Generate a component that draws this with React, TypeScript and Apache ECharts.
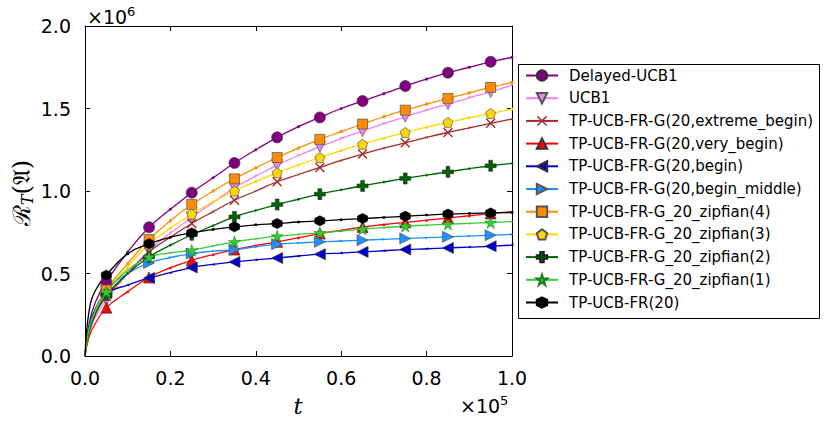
import React, { useEffect, useRef } from "react";
import * as echarts from "echarts";

// time (×10^5)
const T = [0, 0.01, 0.025, 0.05, 0.1, 0.15, 0.2, 0.25, 0.3, 0.35, 0.4, 0.45, 0.5, 0.55, 0.6, 0.65, 0.7, 0.75, 0.8, 0.85, 0.9, 0.95, 1.0];

// regret (×10^6)
const delayedUCB1 = [0, 0.2, 0.33, 0.45, 0.63, 0.78, 0.89, 0.99, 1.08, 1.17, 1.25, 1.325, 1.39, 1.446, 1.5, 1.545, 1.59, 1.636, 1.678, 1.717, 1.75, 1.783, 1.81];
const ucb1 = [0, 0.14, 0.24, 0.34, 0.5, 0.64, 0.745, 0.84, 0.93, 1.02, 1.09, 1.157, 1.215, 1.268, 1.318, 1.363, 1.408, 1.45, 1.49, 1.527, 1.565, 1.6, 1.642];
const extremeBegin = [0, 0.15, 0.26, 0.36, 0.5, 0.63, 0.72, 0.803, 0.875, 0.944, 1.0, 1.056, 1.1, 1.143, 1.185, 1.224, 1.26, 1.292, 1.325, 1.355, 1.383, 1.41, 1.436];
const veryBegin = [0, 0.12, 0.2, 0.293, 0.39, 0.476, 0.535, 0.58, 0.615, 0.645, 0.67, 0.692, 0.717, 0.742, 0.762, 0.782, 0.797, 0.81, 0.823, 0.836, 0.85, 0.864, 0.875];
const begin = [0, 0.18, 0.29, 0.38, 0.43, 0.473, 0.505, 0.536, 0.555, 0.57, 0.583, 0.594, 0.606, 0.617, 0.624, 0.631, 0.638, 0.645, 0.65, 0.655, 0.66, 0.665, 0.672];
const beginMiddle = [0, 0.17, 0.28, 0.4, 0.5, 0.564, 0.597, 0.621, 0.635, 0.645, 0.662, 0.678, 0.685, 0.692, 0.697, 0.702, 0.707, 0.712, 0.717, 0.722, 0.727, 0.732, 0.737];
const zipfian4 = [0, 0.16, 0.28, 0.4, 0.56, 0.706, 0.82, 0.918, 1.0, 1.074, 1.14, 1.203, 1.26, 1.313, 1.36, 1.406, 1.45, 1.49, 1.527, 1.561, 1.595, 1.628, 1.658];
const zipfian3 = [0, 0.15, 0.27, 0.38, 0.54, 0.677, 0.775, 0.86, 0.935, 1.0, 1.058, 1.11, 1.158, 1.203, 1.245, 1.284, 1.32, 1.355, 1.387, 1.416, 1.444, 1.47, 1.497];
const zipfian2 = [0, 0.15, 0.26, 0.37, 0.5, 0.6, 0.672, 0.735, 0.79, 0.843, 0.882, 0.918, 0.95, 0.981, 1.007, 1.031, 1.054, 1.076, 1.096, 1.116, 1.135, 1.153, 1.167];
const zipfian1 = [0, 0.17, 0.28, 0.39, 0.52, 0.6, 0.625, 0.641, 0.668, 0.692, 0.71, 0.726, 0.737, 0.746, 0.758, 0.769, 0.778, 0.787, 0.793, 0.799, 0.804, 0.809, 0.815];
const tpUcbFr = [0, 0.28, 0.4, 0.49, 0.62, 0.68, 0.72, 0.746, 0.767, 0.783, 0.795, 0.803, 0.812, 0.819, 0.826, 0.833, 0.84, 0.847, 0.854, 0.86, 0.864, 0.867, 0.87];

const NAMES = [
  "Delayed-UCB1",
  "UCB1",
  "TP-UCB-FR-G(20,extreme_begin)",
  "TP-UCB-FR-G(20,very_begin)",
  "TP-UCB-FR-G(20,begin)",
  "TP-UCB-FR-G(20,begin_middle)",
  "TP-UCB-FR-G_20_zipfian(4)",
  "TP-UCB-FR-G_20_zipfian(3)",
  "TP-UCB-FR-G_20_zipfian(2)",
  "TP-UCB-FR-G_20_zipfian(1)",
  "TP-UCB-FR(20)",
];
const VALUES = [delayedUCB1, ucb1, extremeBegin, veryBegin, begin, beginMiddle, zipfian4, zipfian3, zipfian2, zipfian1, tpUcbFr];
const X_TICKS = [0, 0.2, 0.4, 0.6, 0.8, 1.0];
const Y_TICKS = [0, 0.5, 1.0, 1.5, 2.0];

const SYM = {
  circle: "circle",
  triDown: "path://M0,0L10,0L5,8.66Z",
  triUp: "path://M5,0L10,8.66L0,8.66Z",
  triLeft: "path://M0,5L8.66,0L8.66,10Z",
  triRight: "path://M0,0L8.66,5L0,10Z",
  square: "rect",
  pentagon: "path://M5,0L9.755,3.455L7.94,9.045L2.06,9.045L0.245,3.455Z",
  plus: "path://M3.3,0H6.7V3.3H10V6.7H6.7V10H3.3V6.7H0V3.3H3.3Z",
  star: "path://M5,0L6.123,3.455L9.755,3.455L6.816,5.59L7.94,9.045L5,6.91L2.06,9.045L3.184,5.59L0.245,3.455L3.877,3.455Z",
  hexagon: "path://M5,0L9.33,2.5L9.33,7.5L5,10L0.67,7.5L0.67,2.5Z",
  x: "path://M0,1L1,0L5,4L9,0L10,1L6,5L10,9L9,10L5,6L1,10L0,9L4,5Z",
};

const STYLES = [
  { color: "#800080", symbol: SYM.circle, size: 11, bw: 0.7, bc: "#333333" },
  { color: "#EE82EE", symbol: SYM.triDown, size: 11, bw: 0.7, bc: "#555555" },
  { color: "#A52A2A", symbol: SYM.x, size: 10, bw: 0, bc: "#A52A2A" },
  { color: "#FF0000", symbol: SYM.triUp, size: 11, bw: 0.7, bc: "#333333" },
  { color: "#0000CD", symbol: SYM.triLeft, size: 11, bw: 0.7, bc: "#333333" },
  { color: "#1E90FF", symbol: SYM.triRight, size: 11, bw: 0.7, bc: "#555555" },
  { color: "#FF8C00", symbol: SYM.square, size: 10, bw: 0.7, bc: "#555555" },
  { color: "#FFD700", symbol: SYM.pentagon, size: 10, bw: 0.7, bc: "#555555" },
  { color: "#006400", symbol: SYM.plus, size: 11, bw: 0.6, bc: "#222222" },
  { color: "#32CD32", symbol: SYM.star, size: 12, bw: 0.5, bc: "#1F7A1F" },
  { color: "#000000", symbol: SYM.hexagon, size: 10, bw: 0.7, bc: "#000000" },
];

export default function App() {
  const ref = useRef<HTMLDivElement>(null);
  useEffect(() => {
    const chart = echarts.init(ref.current!, null, { renderer: "svg" });
    const L = 85, TOP = 26, W = 427, H = 330;
    const series = NAMES.map((name, k) => {
      const s = STYLES[k];
      const vals = VALUES[k];
      return {
        type: "line",
        name,
        xAxisIndex: 0,
        yAxisIndex: 0,
        smooth: 0.45,
        showAllSymbol: true,
        symbol: s.symbol,
        symbolSize: s.size,
        lineStyle: { color: s.color, width: 1.3 },
        itemStyle: {
          color: s.color,
          borderColor: s.bc,
          borderWidth: s.bw,
        },
        emphasis: { disabled: true },
        data: T.map((t, i) => {
          const v = vals[i];
          if (i < 3) return { value: [t, v], symbol: "none" };
          if ((i - 3) % 2 === 0) return { value: [t, v] };
          return { value: [t, v], symbolSize: 3, itemStyle: { borderWidth: 0 } };
        }),
      };
    });

    const axisCommonX = {
      type: "value",
      min: 0,
      max: 1,
      interval: 0.2,
      splitLine: { show: false },
      axisLine: { show: true, onZero: false, lineStyle: { color: "#000", width: 1 } },
      axisTick: { show: true, inside: true, length: 5, lineStyle: { color: "#000", width: 1 } },
    };
    const axisCommonY = {
      type: "value",
      min: 0,
      max: 2,
      interval: 0.5,
      splitLine: { show: false },
      axisLine: { show: true, onZero: false, lineStyle: { color: "#000", width: 1 } },
      axisTick: { show: true, inside: true, length: 5, lineStyle: { color: "#000", width: 1 } },
    };

    chart.setOption({
      animation: false,
      backgroundColor: "#fff",
      grid: { left: L, top: TOP, width: W, height: H, containLabel: false },
      xAxis: [
        {
          ...axisCommonX,
          position: "bottom",
          axisLabel: {
            formatter: (v: number) => (X_TICKS.includes(Number(v.toFixed(1))) ? v.toFixed(1) : ""),
            fontSize: 19,
            fontFamily: "DejaVu Sans",
            color: "#000",
            margin: 12,
          },
        },
        { ...axisCommonX, position: "top", axisLabel: { show: false } },
      ],
      yAxis: [
        {
          ...axisCommonY,
          position: "left",
          axisLabel: {
            formatter: (v: number) => (Y_TICKS.includes(Number(v.toFixed(1))) ? v.toFixed(1) : ""),
            fontSize: 19,
            fontFamily: "DejaVu Sans",
            color: "#000",
            margin: 14,
          },
        },
        { ...axisCommonY, position: "right", axisLabel: { show: false } },
      ],
      legend: {
        orient: "vertical",
        left: 525,
        top: 67,
        padding: 0,
        itemWidth: 32,
        itemHeight: 13,
        itemGap: 5.7,
        data: NAMES,
        selectedMode: false,
        textStyle: {
          fontSize: 15,
          fontFamily: "DejaVu Sans",
          color: "#000",
          lineHeight: 17,
          padding: [0, 0, 0, 6],
        },
      },
      graphic: [
        {
          type: "rect",
          shape: { x: 518.5, y: 64.5, width: 301, height: 254 },
          style: { fill: "none", stroke: "#000", lineWidth: 1 },
          z: 0,
        },
        {
          type: "text",
          x: 87,
          y: 17,
          style: {
            text: "{a|×10}{s|6}",
            verticalAlign: "middle",
            rich: {
              a: { fontSize: 19, fontFamily: "DejaVu Sans", fill: "#000" },
              s: { fontSize: 13, fontFamily: "DejaVu Sans", fill: "#000", padding: [0, 0, 12, 0] },
            },
          },
        },
        {
          type: "text",
          x: 460,
          y: 406,
          style: {
            text: "{a|×10}{s|5}",
            verticalAlign: "middle",
            rich: {
              a: { fontSize: 19, fontFamily: "DejaVu Sans", fill: "#000" },
              s: { fontSize: 13, fontFamily: "DejaVu Sans", fill: "#000", padding: [0, 0, 12, 0] },
            },
          },
        },
        {
          type: "text",
          x: 298,
          y: 406,
          style: {
            text: "t",
            fontSize: 23,
            fontStyle: "italic",
            fontFamily: "DejaVu Serif",
            fill: "#000",
            align: "center",
            verticalAlign: "middle",
          },
        },
        {
          type: "text",
          x: 22,
          y: 193,
          rotation: Math.PI / 2,
          style: {
            text: "{a|ℛ}{s|T}{a|(𝔄)}",
            align: "center",
            verticalAlign: "middle",
            rich: {
              a: { fontSize: 24, fontFamily: "DejaVu Serif", fill: "#000" },
              s: { fontSize: 16, fontStyle: "italic", fontFamily: "DejaVu Serif", fill: "#000", padding: [10, 0, 0, 0] },
            },
          },
        },
      ],
      series,
    });
    return () => chart.dispose();
  }, []);
  return (
    <div
      ref={ref}
      style={{ position: "fixed", left: 0, top: 0, width: 830, height: 427, background: "#fff" }}
    />
  );
}
